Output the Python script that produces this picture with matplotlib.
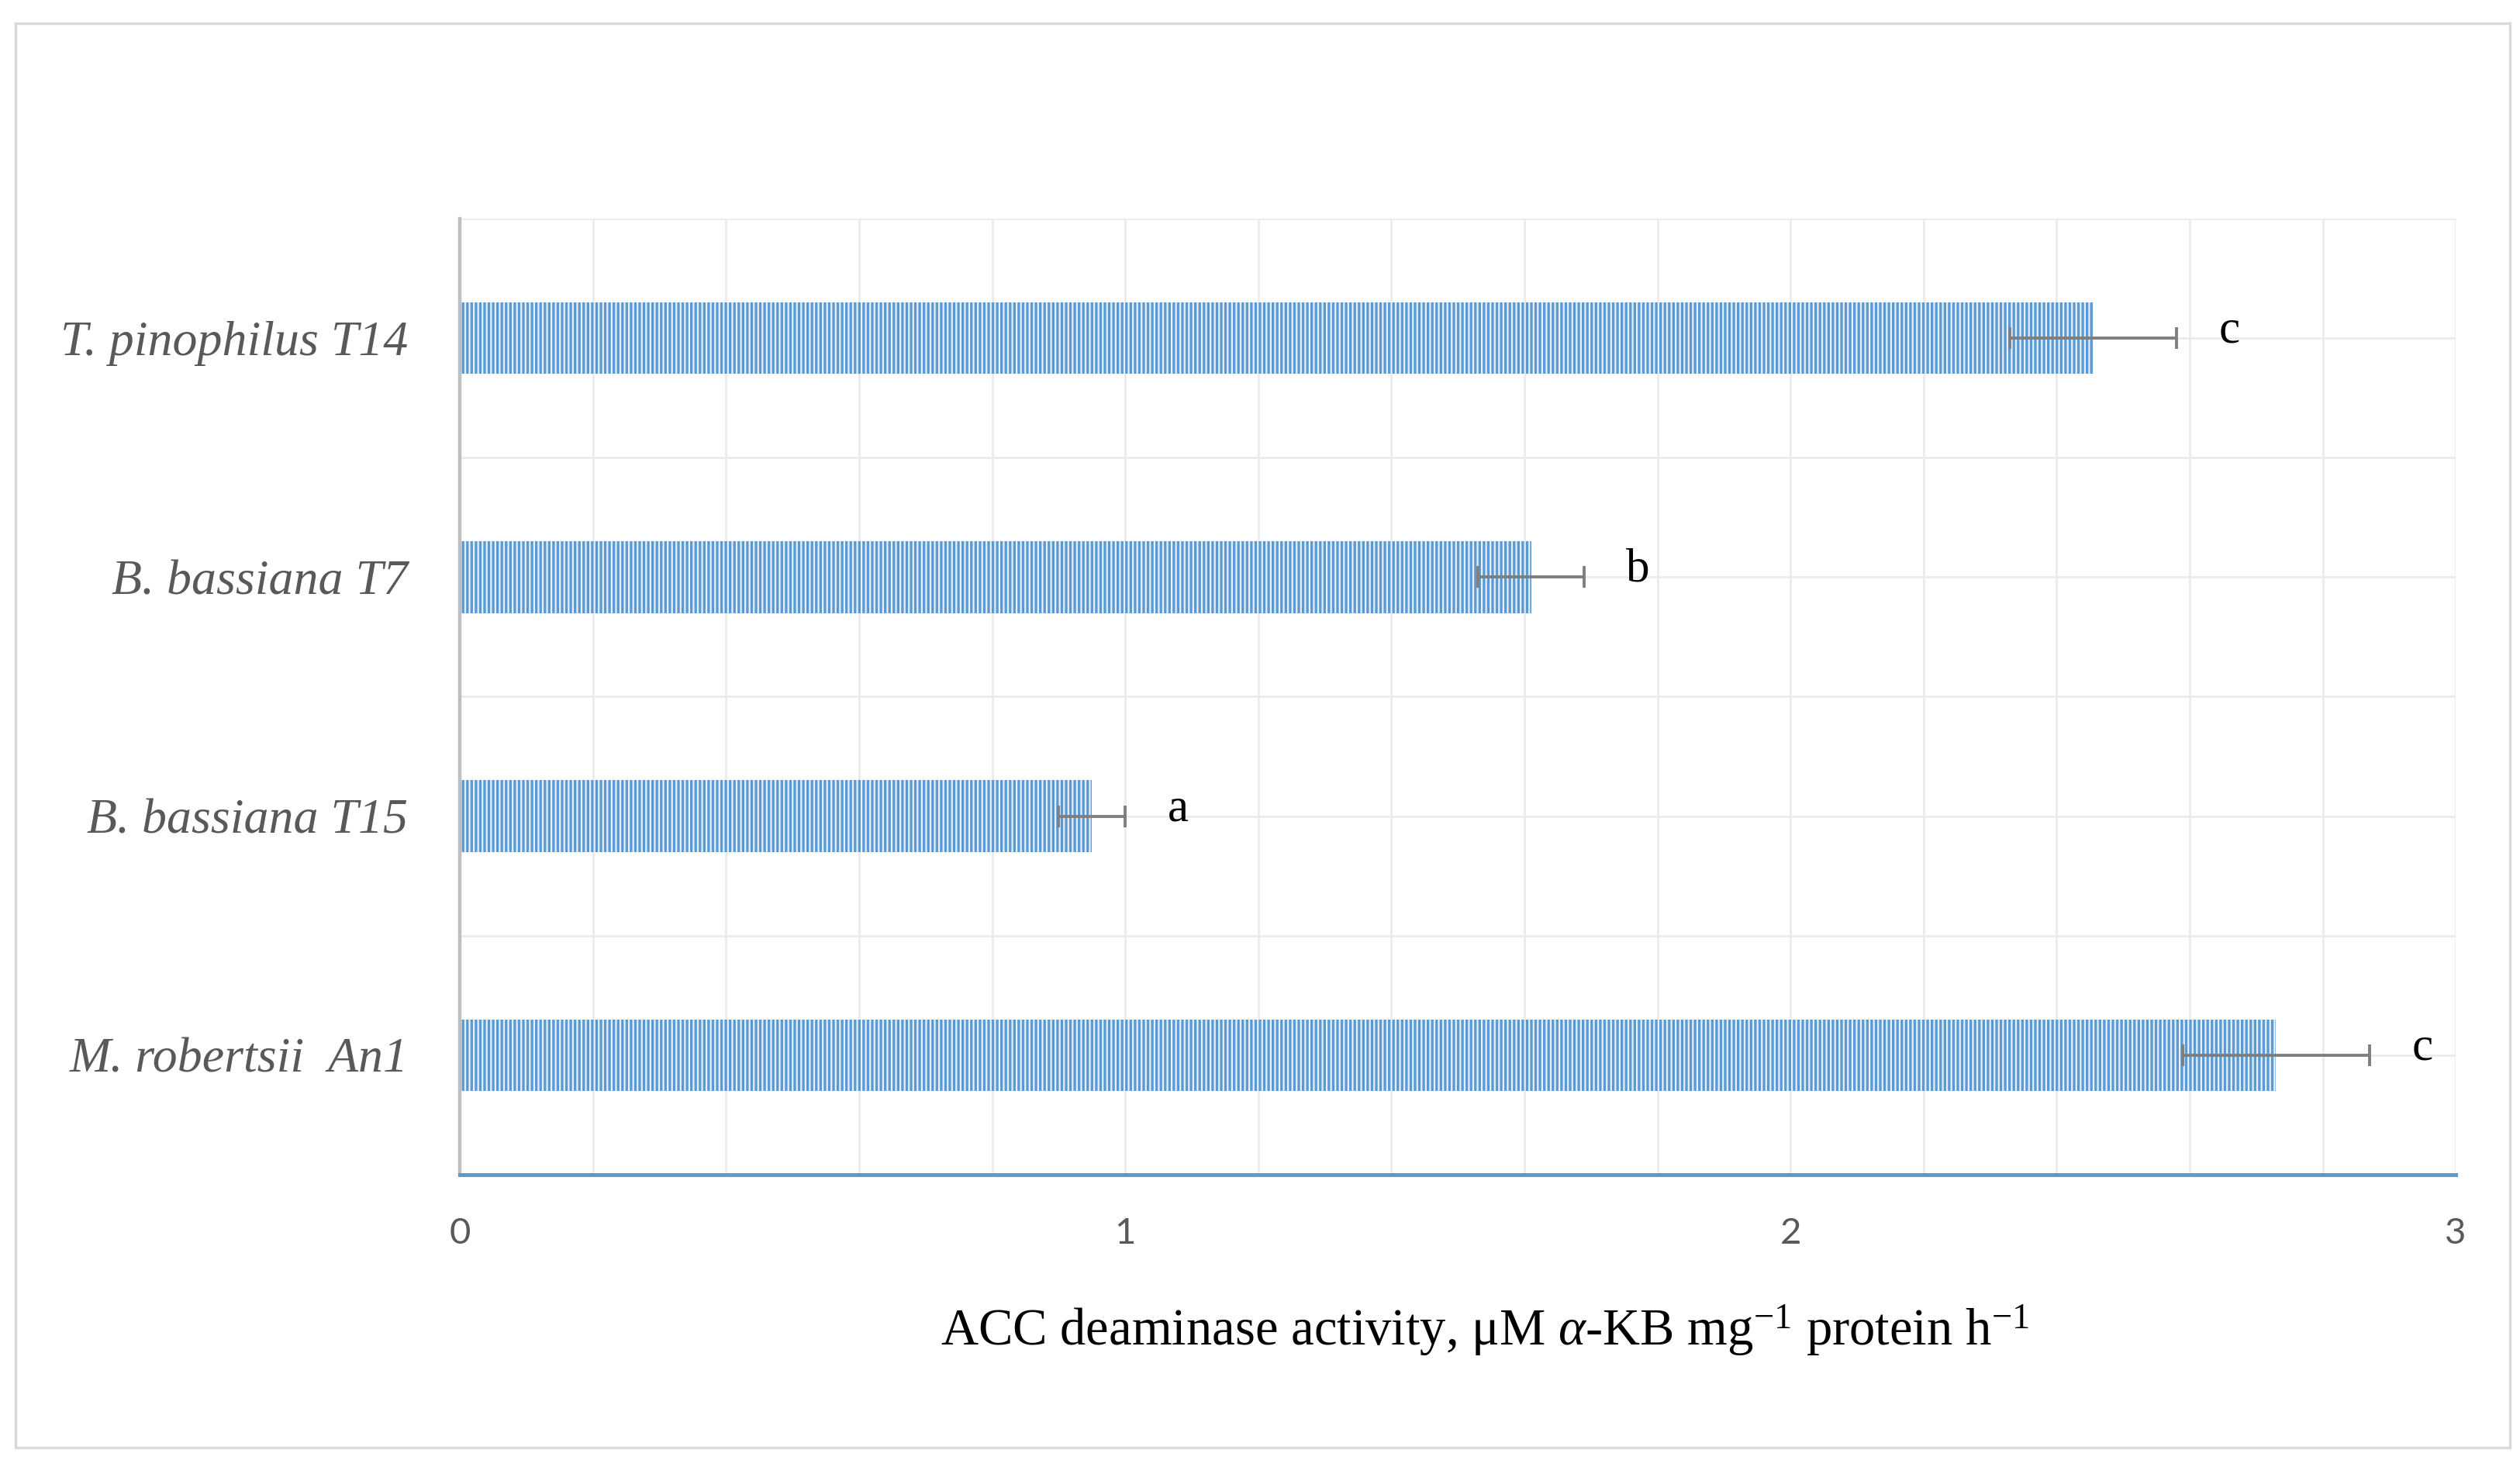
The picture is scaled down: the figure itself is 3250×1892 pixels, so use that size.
import matplotlib.pyplot as plt
from matplotlib.patches import Rectangle
import numpy as np

# data, listed bottom to top
strains = ['M. robertsii  An1', 'B. bassiana T15', 'B. bassiana T7', 'T. pinophilus T14']
activity = [2.73, 0.95, 1.61, 2.455]
err = [0.14, 0.05, 0.08, 0.125]
letters = ['c', 'a', 'b', 'c']
xticks = [0, 1, 2, 3]

plt.rcParams['hatch.linewidth'] = 1.2
plt.rcParams['mathtext.fontset'] = 'custom'
plt.rcParams['mathtext.rm'] = 'Liberation Serif'
plt.rcParams['mathtext.it'] = 'Liberation Serif:italic'

fig = plt.figure(figsize=[16.25, 9.46], dpi=200)
ax = fig.add_axes([0.1825, 0.1993, 0.9745 - 0.1825, 0.851 - 0.1993])

ypos = np.arange(len(strains))
ax.barh(ypos, activity, height=0.30, color='#E6F0FA', edgecolor='#5B9BD5',
        hatch='|' * 6, linewidth=0, zorder=2)
ax.errorbar(activity, ypos, xerr=err, fmt='none', ecolor='#7F7F7F',
            elinewidth=1.4, capsize=5, capthick=1.4, zorder=3)

# significance letters
for y, v, e, s in zip(ypos, activity, err, letters):
    ax.text(v + e + 0.08, y + 0.03, s, ha='center', va='center',
            family='Liberation Serif', fontsize=22, color='black')

ax.set_xlim(0, 3)
ax.set_ylim(-0.5, 3.5)
ax.set_xticks(xticks)
ax.set_xticklabels([str(t) for t in xticks], family='Lato', fontsize=17, color='#595959')
ax.set_xticks(np.arange(0, 3.01, 0.2), minor=True)
ax.set_yticks(ypos)
ax.set_yticklabels(strains, family='Liberation Serif', style='italic', fontsize=23, color='#595959')
ax.set_yticks(np.arange(-0.5, 3.6, 1.0), minor=True)
ax.tick_params(which='both', length=0)
ax.tick_params(axis='x', pad=20)
ax.tick_params(axis='y', pad=24)

ax.grid(True, which='both', color='#EBEBEB', linewidth=1.0, zorder=0)
ax.set_axisbelow(True)

for side in ['top', 'right']:
    ax.spines[side].set_visible(False)
ax.spines['left'].set_color('#BFBFBF')
ax.spines['left'].set_linewidth(1.6)
ax.spines['bottom'].set_color('#5B9BD5')
ax.spines['bottom'].set_linewidth(1.8)
ax.spines['left'].set_zorder(4)
ax.spines['bottom'].set_zorder(4)

fig.text(1915 / 3250, 1 - 1716 / 1892,
         'ACC deaminase activity, \u03bcM $\\mathit{\u03b1}$-KB mg$^{-1}$ protein h$^{-1}$',
         ha='center', va='center', family='Liberation Serif', fontsize=24, color='black')

# outer frame of the chart area
fig.patches.append(Rectangle((20 / 3250, 1 - 1867 / 1892), (3237 - 20) / 3250, (1867 - 30) / 1892,
                             transform=fig.transFigure, fill=False,
                             edgecolor='#D9D9D9', linewidth=1.2))

plt.savefig('out.png', dpi=200, facecolor='white')
